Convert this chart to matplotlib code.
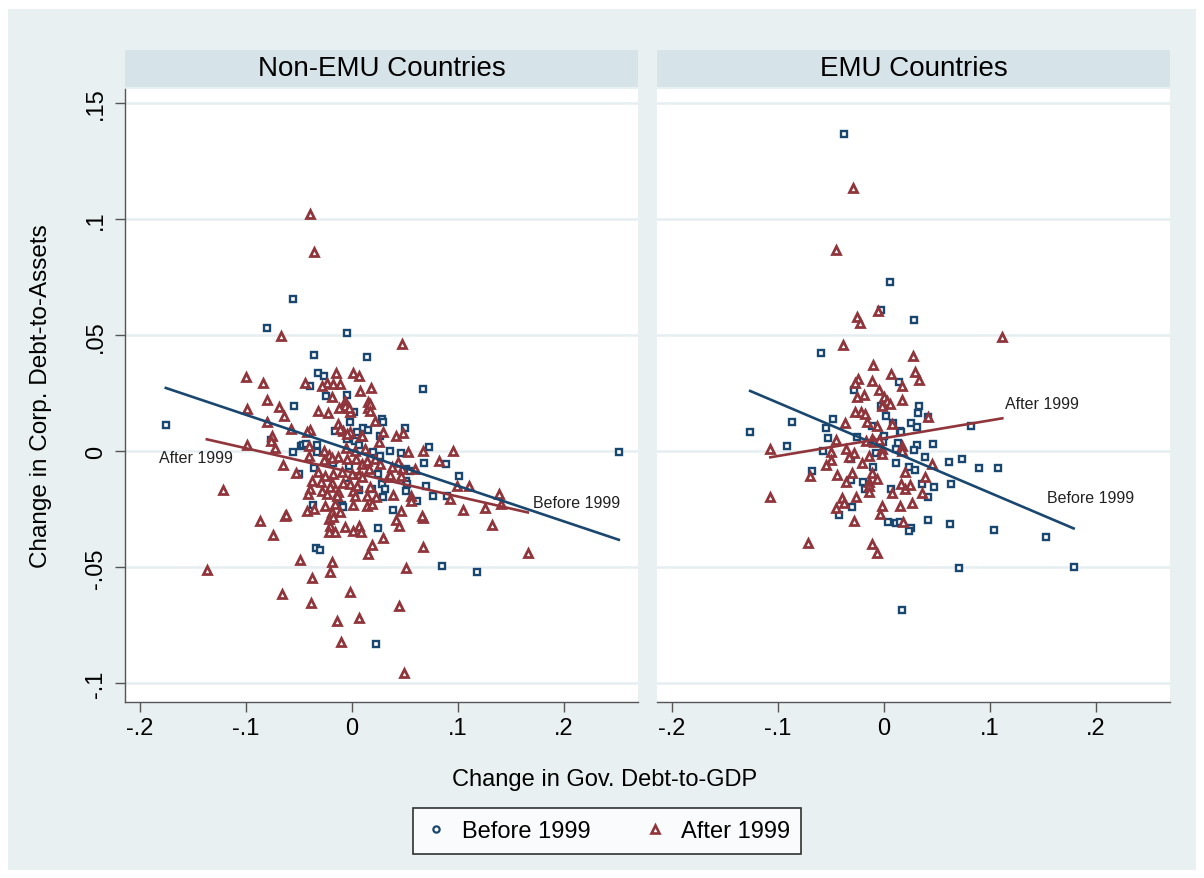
import matplotlib
matplotlib.use("Agg")
import matplotlib.pyplot as plt
from matplotlib.patches import Rectangle
from matplotlib.lines import Line2D
import numpy as np

plt.rcParams['font.family'] = ['Liberation Sans', 'DejaVu Sans']

# Non-EMU, before 1999 (x: change in gov. debt-to-GDP, y: change in corp. debt-to-assets)
nonemu_before_x = [-0.0557, -0.0802, -0.0047, -0.0358, 0.0142, -0.1755, -0.0547, -0.0321, -0.0264, -0.0396,
                   -0.0245, -0.0047, 0.0019, 0.0283, 0.0292, 0.0500, 0.0104, 0.0151, 0.0264, 0.0670,
                   0.0726, 0.0358, 0.0462, 0.2519, 0.0679, 0.0887, 0.1009, 0.0896, 0.0698, 0.0764,
                   0.0849, 0.1179, 0.0613, 0.0387, 0.0245, 0.0226, -0.0094, -0.0340, -0.0302, -0.0481,
                   -0.0462, -0.0434, -0.0019, -0.0160, 0.0047, -0.0764, -0.0557, -0.0330, -0.0330, -0.0179,
                   -0.0500, -0.0358, -0.0028, -0.0047, -0.0368, -0.0085, 0.0198, 0.0264, 0.0509, 0.0547,
                   0.0245, 0.0509, 0.0519, 0.0283, 0.0311, 0.0292, 0.0509, -0.0047, 0.0028, 0.0066,
                   0.0066, 0.0189]
nonemu_before_y = [0.0655, 0.0530, 0.0509, 0.0414, 0.0405, 0.0112, 0.0194, 0.0336, 0.0323, 0.0280,
                   0.0237, 0.0241, 0.0168, 0.0138, 0.0125, 0.0099, 0.0099, 0.0091, 0.0065, 0.0267,
                   0.0017, 0.0000, -0.0009, -0.0004, -0.0052, -0.0056, -0.0108, -0.0194, -0.0151, -0.0194,
                   -0.0496, -0.0522, -0.0216, -0.0254, -0.0332, -0.0832, -0.0233, -0.0418, -0.0427, 0.0022,
                   0.0026, 0.0030, 0.0125, 0.0086, 0.0082, 0.0047, -0.0004, 0.0026, -0.0004, -0.0052,
                   -0.0099, -0.0073, -0.0065, -0.0142, -0.0233, -0.0240, -0.0004, -0.0022, -0.0078, -0.0086,
                   -0.0099, -0.0129, -0.0142, -0.0142, -0.0164, -0.0198, -0.0172, 0.0052, 0.0043, 0.0026,
                   -0.0168, -0.0164]

# Non-EMU, after 1999
nonemu_after_x = [-0.0396, -0.0358, -0.0670, -0.1000, -0.0840, -0.0802, -0.0991, -0.0689, -0.0642, -0.0802,
                  -0.0575, -0.0755, -0.0764, -0.0991, -0.0726, -0.0443, -0.0151, 0.0009, 0.0066, 0.0179,
                  0.0075, -0.0189, -0.0066, 0.0151, 0.0151, -0.0321, -0.0226, 0.0217, 0.0472, 0.0292,
                  0.0415, 0.0481, 0.0085, 0.0255, 0.0528, 0.0670, 0.0953, 0.0821, 0.0991, 0.1104,
                  0.1387, 0.1406, 0.1255, 0.1047, 0.0925, 0.1321, 0.1660, 0.0670, 0.0670, 0.0557,
                  0.0557, 0.0387, 0.0462, 0.0415, 0.0443, 0.0292, 0.0189, 0.0151, 0.0509, -0.0019,
                  0.0443, 0.0066, -0.0142, -0.0104, 0.0491, -0.0066, 0.0066, 0.0009, 0.0085, -0.0189,
                  -0.0208, -0.1217, -0.0868, -0.0745, -0.0632, -0.1368, -0.0491, -0.0377, -0.0660, -0.0387,
                  -0.0236, -0.0179, -0.0113, -0.0283, -0.0066, -0.0123, -0.0019, -0.0028, -0.0132, -0.0085,
                  -0.0019, -0.0047, -0.0113, -0.0396, -0.0425, -0.0406, -0.0406, -0.0264, -0.0217, -0.0264,
                  -0.0189, -0.0132, -0.0047, 0.0038, 0.0094, 0.0142, 0.0217, -0.0651, -0.0528, -0.0321,
                  -0.0255, -0.0179, -0.0094, 0.0000, 0.0066, -0.0377, -0.0292, -0.0189, -0.0085, -0.0019,
                  -0.0396, -0.0283, -0.0208, -0.0132, 0.0009, 0.0047, -0.0415, -0.0236, -0.0142, 0.0028,
                  0.0142, -0.0425, -0.0358, -0.0255, -0.0160, -0.0189, -0.0113, 0.0009, 0.0142, -0.0623,
                  -0.0217, -0.0179, -0.0208, -0.0217, -0.0160, 0.0434, 0.0594, 0.0377, 0.0472, 0.0340,
                  0.0358, 0.0462, 0.0170, 0.0226, 0.0660, 0.0170, 0.0170, 0.0094, 0.0160, 0.0264,
                  0.0094, 0.0189, 0.0028, -0.0057, 0.0123]
nonemu_after_y = [0.1022, 0.0858, 0.0496, 0.0319, 0.0293, 0.0220, 0.0181, 0.0190, 0.0151, 0.0125,
                  0.0095, 0.0065, 0.0043, 0.0026, 0.0013, 0.0293, 0.0336, 0.0336, 0.0323, 0.0272,
                  0.0259, 0.0233, 0.0216, 0.0211, 0.0185, 0.0172, 0.0164, 0.0129, 0.0461, 0.0082,
                  0.0065, 0.0078, 0.0065, 0.0039, -0.0004, 0.0000, 0.0000, -0.0043, -0.0151, -0.0151,
                  -0.0185, -0.0228, -0.0246, -0.0254, -0.0207, -0.0319, -0.0440, -0.0414, -0.0289, -0.0194,
                  -0.0216, -0.0190, -0.0259, -0.0297, -0.0323, -0.0375, -0.0405, -0.0444, -0.0504, -0.0608,
                  -0.0668, -0.0720, -0.0733, -0.0823, -0.0953, -0.0328, -0.0323, -0.0345, -0.0349, -0.0478,
                  -0.0522, -0.0168, -0.0302, -0.0362, -0.0280, -0.0513, -0.0470, -0.0547, -0.0616, -0.0655,
                  0.0293, 0.0289, 0.0289, 0.0280, 0.0194, 0.0185, 0.0168, 0.0185, 0.0116, 0.0086,
                  0.0082, 0.0073, 0.0095, 0.0091, 0.0082, 0.0022, -0.0022, 0.0000, -0.0017, -0.0039,
                  -0.0030, -0.0026, -0.0034, -0.0034, -0.0056, -0.0043, -0.0034, -0.0060, -0.0095, -0.0091,
                  -0.0108, -0.0099, -0.0091, -0.0099, -0.0099, -0.0129, -0.0134, -0.0138, -0.0138, -0.0142,
                  -0.0164, -0.0172, -0.0155, -0.0177, -0.0172, -0.0151, -0.0185, -0.0185, -0.0194, -0.0194,
                  -0.0194, -0.0259, -0.0250, -0.0237, -0.0228, -0.0263, -0.0263, -0.0233, -0.0237, -0.0276,
                  -0.0293, -0.0284, -0.0323, -0.0349, -0.0349, -0.0047, -0.0078, -0.0069, -0.0078, -0.0112,
                  -0.0103, -0.0108, -0.0155, -0.0198, -0.0280, 0.0203, 0.0172, 0.0065, -0.0078, -0.0056,
                  -0.0112, -0.0228, 0.0000, 0.0013, 0.0009]

# EMU, before 1999
emu_before_x = [-0.0379, 0.0057, -0.0028, 0.0284, -0.0588, 0.0142, -0.0284, 0.0332, 0.0322, -0.0028,
                0.0019, -0.0483, -0.0550, -0.0863, -0.1261, 0.0085, 0.0256, 0.0313, -0.0114, 0.0152,
                -0.0910, -0.0531, -0.0578, -0.0682, -0.0313, -0.0256, -0.0076, -0.0009, 0.0114, 0.0133,
                0.0313, 0.0284, 0.0464, 0.0389, 0.0237, 0.0294, 0.0114, -0.0104, -0.0313, -0.0199,
                -0.0180, 0.0066, 0.0360, 0.0474, 0.0417, -0.0303, -0.0427, 0.0038, 0.0114, 0.0152,
                0.0256, 0.0237, 0.0417, 0.0171, 0.0825, 0.0616, 0.0739, 0.0900, 0.1081, 0.0635,
                0.0626, 0.1043, 0.1526, 0.0711, 0.1791, 0.0000, 0.0161, 0.0417]
emu_before_y = [0.1366, 0.0728, 0.0608, 0.0565, 0.0422, 0.0297, 0.0263, 0.0194, 0.0164, 0.0194,
                0.0151, 0.0138, 0.0099, 0.0125, 0.0082, 0.0121, 0.0121, 0.0103, 0.0108, 0.0086,
                0.0022, 0.0056, 0.0000, -0.0086, -0.0034, 0.0060, -0.0009, 0.0039, 0.0009, 0.0034,
                0.0026, 0.0004, 0.0030, -0.0026, -0.0069, -0.0082, -0.0052, -0.0069, -0.0125, -0.0134,
                -0.0164, -0.0164, -0.0142, -0.0155, -0.0198, -0.0241, -0.0276, -0.0306, -0.0310, -0.0306,
                -0.0332, -0.0345, -0.0297, -0.0685, 0.0108, -0.0047, -0.0034, -0.0073, -0.0073, -0.0142,
                -0.0315, -0.0341, -0.0371, -0.0504, -0.0500, 0.0065, 0.0082, 0.0147]

# EMU, after 1999
emu_after_x = [-0.0294, -0.0455, -0.0057, -0.0256, -0.0227, -0.0389, 0.0275, -0.0104, 0.0066, 0.0294,
               0.0332, -0.0246, -0.0275, -0.0114, 0.0171, -0.0190, -0.0256, -0.0047, 0.0000, 0.0028,
               0.0057, -0.0019, 0.0171, 0.0417, -0.0275, -0.0218, -0.0180, -0.0161, -0.0370, 0.0076,
               -0.0066, -0.1071, -0.0455, -0.0502, -0.0502, -0.0550, -0.0692, -0.1071, -0.0360, -0.0284,
               -0.0332, -0.0209, -0.0142, -0.0171, -0.0114, -0.0019, -0.0019, 0.0171, 0.0171, 0.0455,
               0.0199, -0.0114, -0.0066, -0.0303, -0.0445, -0.0360, -0.0142, -0.0142, -0.0142, 0.0076,
               0.0161, 0.0199, 0.0246, 0.0389, 0.0360, -0.0398, -0.0379, -0.0265, -0.0455, -0.0284,
               -0.0019, -0.0038, 0.0152, 0.0265, 0.0180, -0.0720, -0.0114, -0.0066, 0.1118, -0.0095,
               -0.0047]
emu_after_y = [0.1134, 0.0866, 0.0603, 0.0578, 0.0552, 0.0457, 0.0409, 0.0371, 0.0332, 0.0341,
               0.0306, 0.0310, 0.0293, 0.0302, 0.0280, 0.0241, 0.0233, 0.0263, 0.0233, 0.0216,
               0.0203, 0.0194, 0.0220, 0.0147, 0.0168, 0.0168, 0.0159, 0.0125, 0.0121, 0.0116,
               0.0108, 0.0009, 0.0047, -0.0004, -0.0039, -0.0060, -0.0108, -0.0198, 0.0009, -0.0009,
               -0.0026, -0.0052, -0.0022, 0.0043, 0.0052, 0.0009, -0.0013, 0.0022, 0.0000, -0.0056,
               -0.0091, -0.0095, -0.0121, -0.0095, -0.0103, -0.0134, -0.0134, -0.0151, -0.0177, -0.0181,
               -0.0142, -0.0164, -0.0147, -0.0112, -0.0181, -0.0203, -0.0224, -0.0198, -0.0246, -0.0302,
               -0.0237, -0.0272, -0.0237, -0.0224, -0.0306, -0.0397, -0.0401, -0.0440, 0.0491, 0.0039,
               0.0047]

# fitted lines (intercept, slope)
fit_nonemu_before = (0.0004, -0.153)
fit_nonemu_after = (-0.0091, -0.104)
fit_emu_before = (0.0015, -0.194)
fit_emu_after = (0.0056, 0.0767)

# where the line labels sit (x, y)
label_nonemu = {'After 1999': (-0.182, -0.0028), 'Before 1999': (0.171, -0.022)}
label_emu = {'After 1999': (0.114, 0.0207), 'Before 1999': (0.154, -0.0198)}

panel_titles = ['Non-EMU Countries', 'EMU Countries']
xticks = [-0.2, -0.1, 0, 0.1, 0.2]
xtick_labels = ['-.2', '-.1', '0', '.1', '.2']
yticks = [0.15, 0.1, 0.05, 0, -0.05, -0.1]
ytick_labels = ['.15', '.1', '.05', '0', '-.05', '-.1']

blue = '#1a476f'
red = '#90353b'
bg = '#e8f0f2'
strip = '#d6e3e8'
grid = '#e6eef1'

W, H = 1204, 879
fig = plt.figure(figsize=(W / 100, H / 100), dpi=100)
fig.patch.set_facecolor('white')
fig.patches.append(Rectangle((8 / W, 8 / H), 1 - 16 / W, 1 - 18 / H, transform=fig.transFigure,
                             facecolor=bg, edgecolor='none', zorder=-10))

ax_l = fig.add_axes([125 / W, 176 / H, 513 / W, 613 / H])
ax_r = fig.add_axes([657 / W, 176 / H, 513 / W, 613 / H])

panels = [
    (ax_l, nonemu_before_x, nonemu_before_y, nonemu_after_x, nonemu_after_y,
     fit_nonemu_before, fit_nonemu_after, label_nonemu),
    (ax_r, emu_before_x, emu_before_y, emu_after_x, emu_after_y,
     fit_emu_before, fit_emu_after, label_emu),
]

for i, (ax, bx, by, axx, ayy, fb, fa, labels) in enumerate(panels):
    ax.set_facecolor('white')
    for yt in yticks:
        ax.axhline(yt, color=grid, lw=1.8, zorder=0)
    ax.plot(bx, by, 's', ms=4.0, mfc='white', mec=blue, mew=1.7, ls='none', zorder=3)
    ax.plot(axx, ayy, '^', ms=5.2, mfc='white', mec=red, mew=2.0, ls='none', zorder=3)

    xb = np.array([min(bx), max(bx)])
    xa = np.array([min(axx), max(axx)])
    ax.plot(xb, fb[0] + fb[1] * xb, color=blue, lw=1.9, zorder=4)
    ax.plot(xa, fa[0] + fa[1] * xa, color=red, lw=1.9, zorder=4)
    for txt, (tx, ty) in labels.items():
        ax.text(tx, ty, txt, fontsize=11.5, ha='left', va='center', color='#222222', zorder=5)

    ax.set_xlim(-0.214, 0.270)
    ax.set_ylim(-0.108, 0.156)
    ax.set_xticks(xticks)
    ax.set_xticklabels(xtick_labels, fontsize=17)
    ax.set_yticks(yticks)
    for s in ['top', 'right']:
        ax.spines[s].set_visible(False)
    ax.spines['bottom'].set_color('#555555')
    ax.spines['bottom'].set_linewidth(1.0)
    ax.tick_params(axis='x', length=7, width=1.0, color='#555555', pad=4)
    if i == 0:
        ax.set_yticklabels(ytick_labels, fontsize=17, rotation=90, va='center')
        ax.spines['left'].set_color('#555555')
        ax.spines['left'].set_linewidth(1.0)
        ax.tick_params(axis='y', length=7, width=1.0, color='#555555', pad=6)
        ax.set_ylabel('Change in Corp. Debt-to-Assets', fontsize=17.5, labelpad=24)
    else:
        ax.spines['left'].set_visible(False)
        ax.tick_params(axis='y', left=False, labelleft=False)

    # header strip above each panel
    pos = ax.get_position()
    fig.patches.append(Rectangle((pos.x0, 1 - 88 / H), pos.width, 37 / H, transform=fig.transFigure,
                                 facecolor=strip, edgecolor='none'))
    fig.text(pos.x0 + pos.width / 2, 1 - 69.5 / H, panel_titles[i], fontsize=20,
             ha='center', va='center')

fig.text(605 / W, 1 - 780 / H, 'Change in Gov. Debt-to-GDP', fontsize=17, ha='center', va='center')

handles = [Line2D([], [], marker='o', ls='none', ms=4.5, mfc='white', mec=blue, mew=1.6),
           Line2D([], [], marker='^', ls='none', ms=5.2, mfc='white', mec=red, mew=1.9)]
leg = fig.legend(handles, ['Before 1999', 'After 1999'], loc='center',
                 bbox_to_anchor=(607 / W, 1 - 832 / H), ncol=2, fontsize=17, frameon=True,
                 fancybox=False, edgecolor='black', handletextpad=0.6, columnspacing=2.2,
                 borderpad=0.5, handlelength=1.0)
leg.get_frame().set_linewidth(1.2)

fig.savefig('out.png', dpi=100, facecolor=fig.get_facecolor())
